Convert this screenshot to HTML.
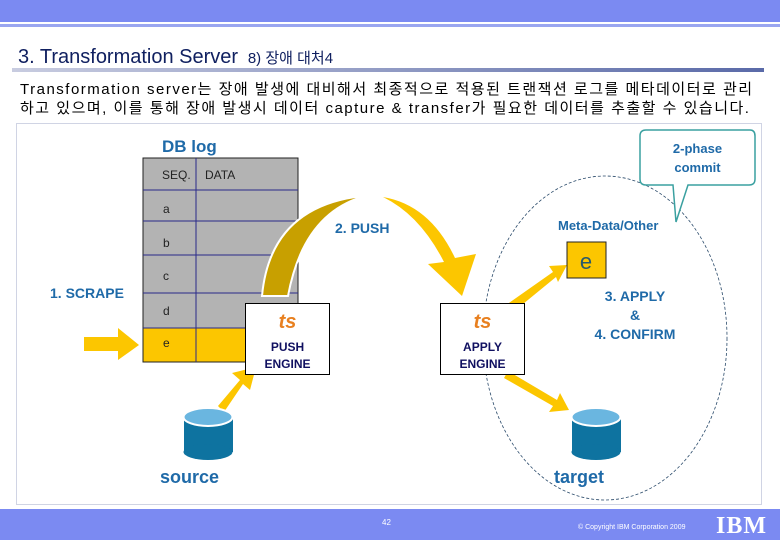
<!DOCTYPE html>
<html><head><meta charset="utf-8"><style>
body{margin:0;width:780px;height:540px;overflow:hidden;background:#fff;font-family:"Liberation Sans","Noto Sans CJK KR",sans-serif;position:relative}
.a{position:absolute}
.b{font-weight:bold;color:#1f6aa8}
</style></head><body>
<div class="a" style="left:0;top:0;width:780px;height:22px;background:#7b8af2"></div>
<div class="a" style="left:0;top:24px;width:780px;height:3px;background:#9aa6f0"></div>
<div class="a" style="left:18px;top:46px;font-size:20px;color:#102060;white-space:nowrap">3. Transformation Server <span style="font-size:15px">&nbsp;8) 장애 대처4</span></div>
<div class="a" style="left:12px;top:68px;width:752px;height:4px;background:linear-gradient(90deg,#c8cce0,#5a6aa8)"></div>
<div class="a" style="left:20px;top:80px;font-size:15px;letter-spacing:1.5px;line-height:19px;color:#000;white-space:nowrap">Transformation server는 장애 발생에 대비해서 최종적으로 적용된 트랜잭션 로그를 메타데이터로 관리<br>하고 있으며, 이를 통해 장애 발생시 데이터 capture &amp; transfer가 필요한 데이터를 추출할 수 있습니다.</div>
<div class="a" style="left:16px;top:123px;width:746px;height:382px;border:1px solid #d0d4e4;box-sizing:border-box"></div>
<div class="a" style="left:0;top:509px;width:780px;height:31px;background:#7b8af2"></div>
<div class="a" style="left:382px;top:518px;font-size:8px;color:#fff">42</div>
<div class="a" style="left:578px;top:524px;font-size:7px;color:#fff">© Copyright IBM Corporation 2009</div>
<div class="a" style="left:716px;top:513px;font-size:24px;font-weight:bold;color:#fff;font-family:'Liberation Serif',serif;letter-spacing:1px">IBM</div>

<svg class="a" style="left:0;top:0" width="780" height="540">
<rect x="143" y="158" width="155" height="204" fill="#b3b3b3" stroke="#222" stroke-width="1"/>
<rect x="143" y="328" width="155" height="34" fill="#fcc600" stroke="#222"/>
<g stroke="#2a2a8a" stroke-width="1">
<line x1="196" y1="158" x2="196" y2="362"/>
<line x1="143" y1="190" x2="298" y2="190"/>
<line x1="143" y1="221" x2="298" y2="221"/>
<line x1="143" y1="255" x2="298" y2="255"/>
<line x1="143" y1="293" x2="298" y2="293"/>
<line x1="143" y1="328" x2="298" y2="328"/>
</g>
<g font-family="Liberation Sans,sans-serif" font-size="12" fill="#222">
<text x="162" y="179">SEQ.</text><text x="205" y="179">DATA</text>
<text x="163" y="213">a</text><text x="163" y="247">b</text><text x="163" y="280">c</text><text x="163" y="315">d</text><text x="163" y="347">e</text>
</g>
<polygon points="84,337 118,337 118,328 139,345 118,360 118,351 84,351" fill="#fcc600"/>
<polygon points="218,406 240,380 232,373 256,367 250,390 243,384 224,412" fill="#fcc600"/>
<path d="M262,296 Q270,210 355,197 L362,197 Q303,215 288,296 Z" fill="#c8a000" stroke="#fff" stroke-width="2"/>
<path d="M383,197 Q430,205 455,258 L476,254 L462,296 L428,264 L444,262 Q420,215 383,197 Z" fill="#fcc600"/>
<polygon points="506,305 553,272 549,266 567,265 558,282 556,277 512,313" fill="#fcc600"/>
<polygon points="508,371 557,400 560,393 569,410 549,412 553,406 504,378" fill="#fcc600"/>
<ellipse cx="605" cy="338" rx="122" ry="162" fill="none" stroke="#2a4a6a" stroke-width="0.8" stroke-dasharray="3,2"/>
<path d="M646,130 L750,130 Q755,130 755,136 L755,179 Q755,185 749,185 L688,185 L676,222 L673,185 L646,185 Q640,185 640,179 L640,136 Q640,130 646,130 Z" fill="#fff" stroke="#3aa0a0" stroke-width="1.5"/>
<g>
<rect x="184" y="418" width="49" height="34" fill="#0e73a0"/><ellipse cx="208" cy="452" rx="24.5" ry="8" fill="#0e73a0"/>
<ellipse cx="208" cy="417" rx="24.5" ry="9" fill="#6ab6e0" stroke="#fff" stroke-width="2"/>
<rect x="572" y="418" width="49" height="34" fill="#0e73a0"/><ellipse cx="596" cy="452" rx="24.5" ry="8" fill="#0e73a0"/>
<ellipse cx="596" cy="417" rx="24.5" ry="9" fill="#6ab6e0" stroke="#fff" stroke-width="2"/>
</g>
<rect x="567" y="242" width="39" height="36" fill="#fcc600" stroke="#222"/>
<text x="586" y="269" font-family="Liberation Sans,sans-serif" font-size="22" fill="#2a5a6a" text-anchor="middle">e</text>
</svg>

<div class="a" style="left:245px;top:303px;width:85px;height:72px;border:1px solid #000;background:#fff;box-sizing:border-box"></div>
<div class="a" style="left:440px;top:303px;width:85px;height:72px;border:1px solid #000;background:#fff;box-sizing:border-box"></div>
<div class="a" style="left:245px;top:311px;width:85px;text-align:center;font-size:20px;font-weight:bold;font-style:italic;color:#e88020">ts</div>
<div class="a" style="left:440px;top:311px;width:85px;text-align:center;font-size:20px;font-weight:bold;font-style:italic;color:#e88020">ts</div>
<div class="a" style="left:245px;top:339px;width:85px;text-align:center;font-size:12px;font-weight:bold;color:#101060;line-height:17px">PUSH<br>ENGINE</div>
<div class="a" style="left:440px;top:339px;width:85px;text-align:center;font-size:12px;font-weight:bold;color:#101060;line-height:17px">APPLY<br>ENGINE</div>

<div class="a b" style="left:162px;top:137px;font-size:17px">DB log</div>
<div class="a b" style="left:50px;top:285px;font-size:14px">1. SCRAPE</div>
<div class="a b" style="left:335px;top:220px;font-size:14px">2. PUSH</div>
<div class="a b" style="left:558px;top:218px;font-size:13px">Meta-Data/Other</div>
<div class="a b" style="left:580px;top:287px;width:110px;text-align:center;font-size:14px;line-height:19px">3. APPLY<br>&amp;<br>4. CONFIRM</div>
<div class="a b" style="left:640px;top:139px;width:115px;text-align:center;font-size:13px;line-height:19px">2-phase<br>commit</div>
<div class="a b" style="left:160px;top:467px;font-size:18px">source</div>
<div class="a b" style="left:554px;top:467px;font-size:18px">target</div>
</body></html>
